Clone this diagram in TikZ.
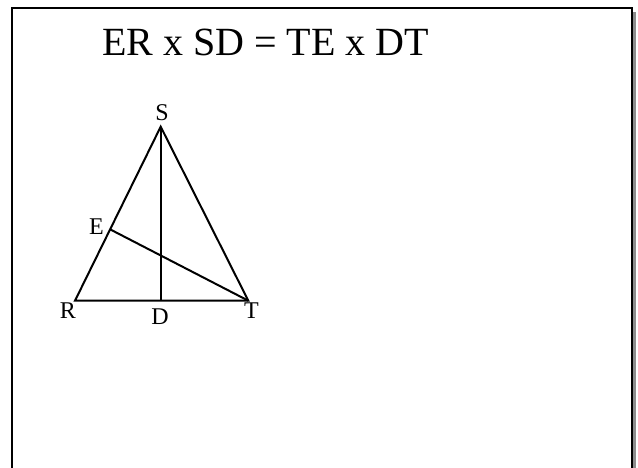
\documentclass[tikz,border=0pt]{standalone}
\usepackage{fontspec}
\setmainfont{Liberation Serif}
\usetikzlibrary{positioning,calc}
\tikzset{
  frame/.style={draw, line width=2pt, fill=white},
  shade/.style={fill=black!45, draw=none},
  side/.style={line width=2pt, line join=miter},
  lbl/.style={font=\fontsize{24}{24}\selectfont, inner sep=0pt},
  title/.style={font=\fontsize{40}{40}\selectfont, inner sep=0pt},
}

\begin{document}
\begin{tikzpicture}[x=1pt, y=-1pt]
  \useasboundingbox (0,0) rectangle (638,468);
  \clip (0,0) rectangle (638,468);
  % slide frame with its shadow
  \fill[shade] (16,12) rectangle (636,490);
  \draw[frame] (12,8) rectangle (632,486);
  \node[title] (eq) at (265.5,42) {ER x SD = TE x DT};
  % triangle
  \coordinate (S) at (160.7,126.7);
  \coordinate (R) at (75,300.7);
  \coordinate (T) at (248.3,300.7);
  \coordinate (D) at (160.7,300.7);
  \coordinate (E) at ($(R)!0.41!(S)$);
  \draw[side] (R) -- (S) -- (T) -- cycle;
  \draw[side] (S) -- (D);
  \draw[side] (E) -- (T);
  \node[lbl] (sS) at (162,113) {S};
  \node[lbl] (sE) at (96.5,226.7) {E};
  \node[lbl] (sR) at (68,310.5) {R};
  \node[lbl] (sD) at (160,316.7) {D};
  \node[lbl] (sT) at (251.5,311) {T};
\end{tikzpicture}
\end{document}
